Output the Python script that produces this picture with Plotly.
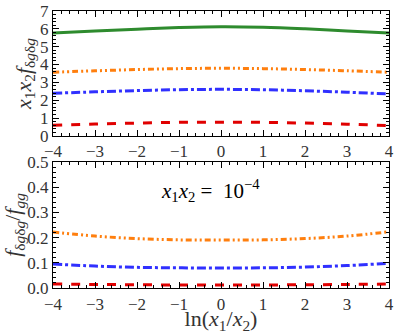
import plotly.graph_objects as go
from plotly.subplots import make_subplots

# ln(x1/x2) sample points
lnx = [-4, -3, -2, -1, 0, 1, 2, 3, 4]

# top panel: x1 x2 f_dgdg
top_green = [5.77, 5.88, 5.98, 6.07, 6.12, 6.09, 6.00, 5.88, 5.77]
top_orange = [3.57, 3.65, 3.72, 3.77, 3.79, 3.77, 3.72, 3.65, 3.57]
top_blue = [2.39, 2.47, 2.54, 2.59, 2.61, 2.59, 2.53, 2.45, 2.35]
top_red = [0.60, 0.67, 0.72, 0.76, 0.77, 0.76, 0.72, 0.66, 0.58]

# bottom panel: f_dgdg / f_gg
bot_orange = [0.222, 0.206, 0.196, 0.191, 0.190, 0.191, 0.196, 0.206, 0.223]
bot_blue = [0.095, 0.087, 0.082, 0.080, 0.079, 0.080, 0.083, 0.089, 0.098]
bot_red = [0.016, 0.014, 0.013, 0.012, 0.012, 0.012, 0.013, 0.014, 0.016]

GREEN = "#2e8b2e"
ORANGE = "#ff7f0e"
BLUE = "#3030ff"
RED = "#e00000"
ddot = "6px,3px,2px,3px,2px,3px"

fig = make_subplots(rows=2, cols=1)

def add(y, color, dash, row):
    fig.add_trace(go.Scatter(x=lnx, y=y, mode="lines", line_shape="spline",
                             line=dict(color=color, width=3, dash=dash),
                             showlegend=False), row=row, col=1)

add(top_green, GREEN, "solid", 1)
add(top_orange, ORANGE, ddot, 1)
add(top_blue, BLUE, "dashdot", 1)
add(top_red, RED, "dash", 1)
add(bot_orange, ORANGE, ddot, 2)
add(bot_blue, BLUE, "dashdot", 2)
add(bot_red, RED, "dash", 2)

font = dict(family="Liberation Serif", size=17, color="#333")
tfont = dict(family="Liberation Serif", size=22, color="#333")

axis_common = dict(showline=True, linecolor="black", linewidth=1.2, mirror="allticks",
                   ticks="inside", ticklen=6, tickcolor="black", showgrid=False,
                   zeroline=False, tickfont=font, automargin=False,
                   ticklabeloverflow="allow")

for r in (1, 2):
    fig.update_xaxes(range=[-4, 4],
                     minor=dict(ticks="inside", ticklen=3, dtick=0.2, tickcolor="black"),
                     tickvals=lnx, ticktext=[("\u2212" + str(-v)) if v < 0 else str(v) for v in lnx],
                     row=r, col=1, **axis_common)

fig.update_yaxes(range=[0, 7], dtick=1,
                 minor=dict(ticks="inside", ticklen=3, dtick=0.2, tickcolor="black"),
                 title=dict(text="<i>x</i><sub>1</sub><i>x</i><sub>2</sub><i>f</i><sub>δ<i>g</i>δ<i>g</i></sub>",
                            font=tfont, standoff=2),
                 row=1, col=1, **axis_common)
fig.update_yaxes(range=[0, 0.5], dtick=0.1, tickformat=".1f",
                 minor=dict(ticks="inside", ticklen=3, dtick=0.02, tickcolor="black"),
                 title=dict(text="<i>f</i><sub>δ<i>g</i>δ<i>g</i></sub>/<i>f</i><sub><i>gg</i></sub>",
                            font=tfont, standoff=2),
                 row=2, col=1, **axis_common)
fig.update_xaxes(title=dict(text="ln(<i>x</i><sub>1</sub>/<i>x</i><sub>2</sub>)",
                            font=tfont, standoff=2),
                 row=2, col=1)

fig.update_layout(
    width=399, height=334,
    margin=dict(l=53, r=10, t=11, b=46),
    plot_bgcolor="white", paper_bgcolor="white",
    yaxis=dict(domain=[0.549, 1.0]),
    yaxis2=dict(domain=[0.0, 0.455]),
)

fig.add_annotation(x=-0.25, y=0.385, xref="x2", yref="y2", showarrow=False,
                   text="<i>x</i><sub>1</sub><i>x</i><sub>2</sub> =  10<sup>−4</sup>",
                   font=dict(family="Liberation Serif", size=21, color="black"))

fig.write_html("out.html", config={"displayModeBar": False})

# drop the default 8px body margin so the figure fills the window
with open("out.html", encoding="utf-8") as f:
    html = f.read()
html = html.replace("<body>", '<body style="margin:0">', 1)
with open("out.html", "w", encoding="utf-8") as f:
    f.write(html)
